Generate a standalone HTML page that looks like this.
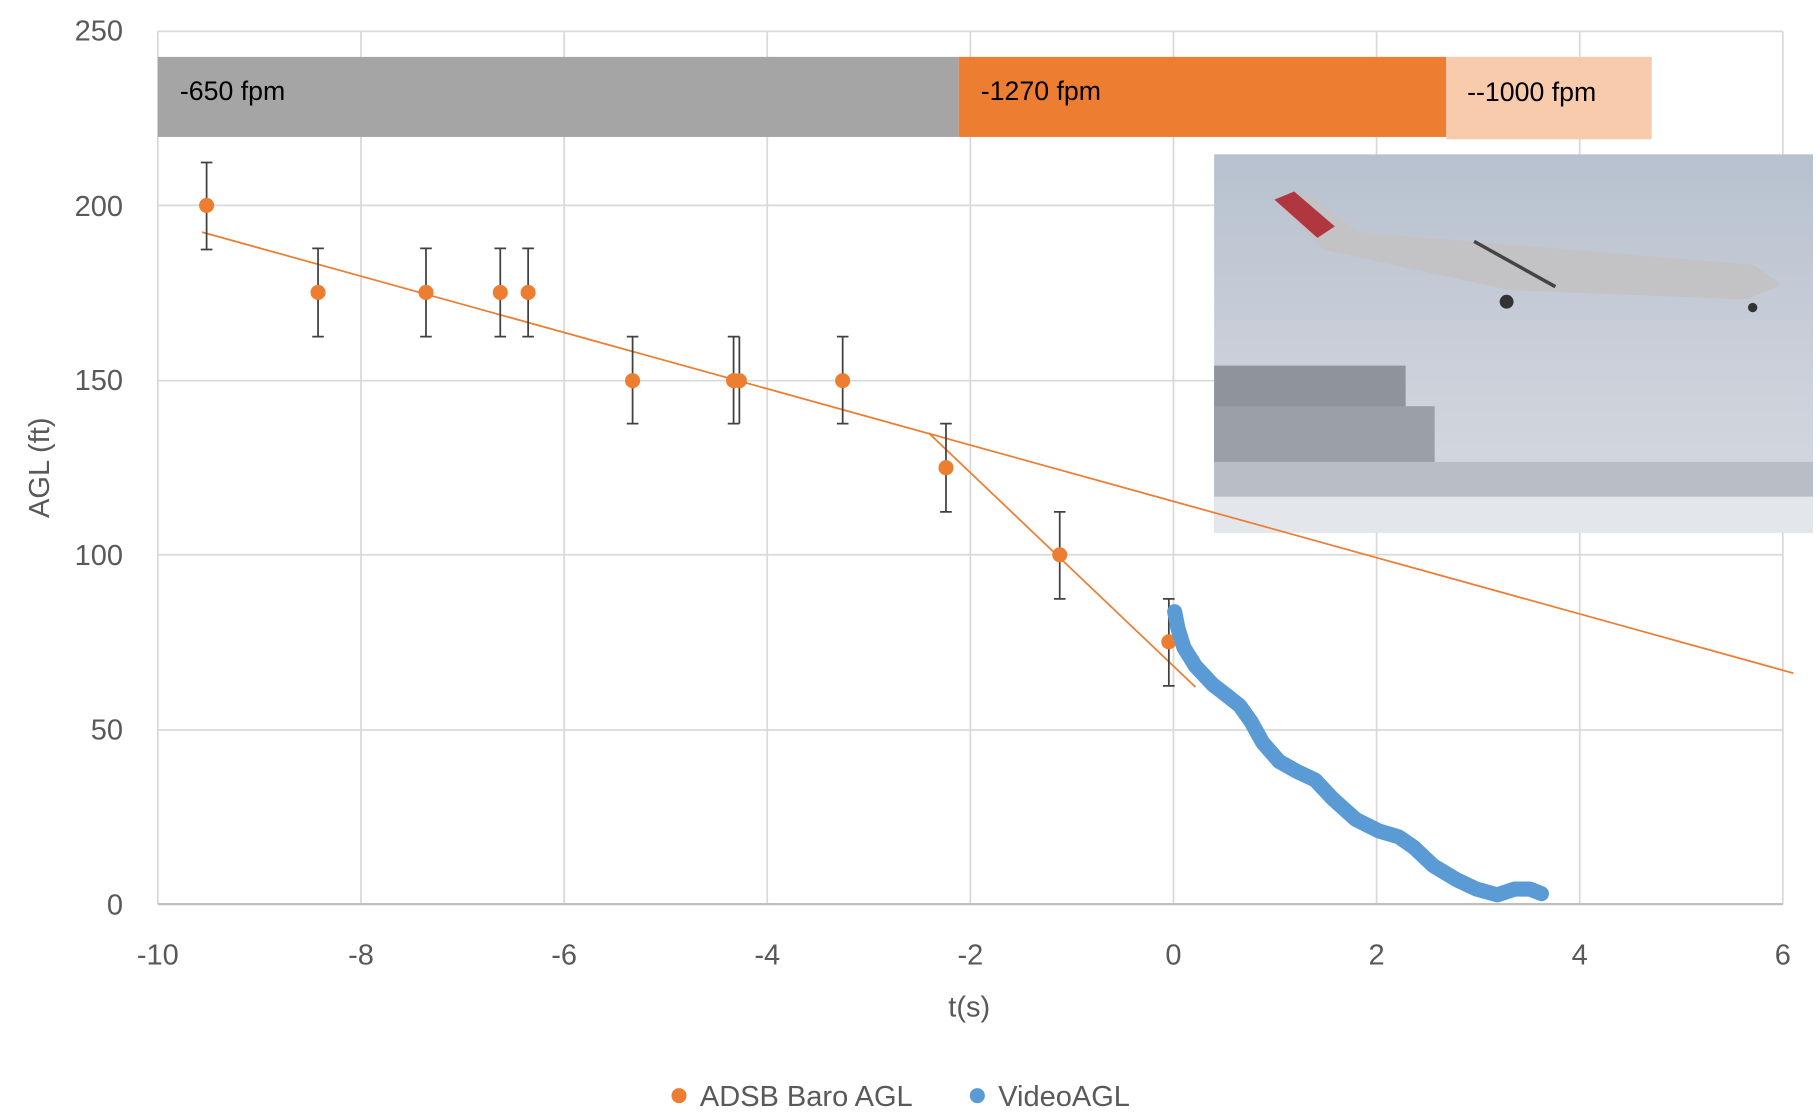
<!DOCTYPE html>
<html><head><meta charset="utf-8"><style>
html,body{margin:0;padding:0;background:#fff;}
svg{display:block;}
text{font-family:"Liberation Sans",sans-serif;}
</style></head><body>
<svg width="1820" height="1120" viewBox="0 0 1568 965" preserveAspectRatio="none" xmlns="http://www.w3.org/2000/svg">
<defs>
<linearGradient id="sky" x1="0" y1="0" x2="0" y2="1">
<stop offset="0" stop-color="#b7c1cf"/><stop offset="0.5" stop-color="#c9ced8"/><stop offset="1" stop-color="#d6dbe2"/>
</linearGradient>
</defs>
<g stroke="#d9d9d9" stroke-width="1.5">
<line x1="136" y1="27" x2="1536" y2="27"/>
<line x1="136" y1="177" x2="1536" y2="177"/>
<line x1="136" y1="328" x2="1536" y2="328"/>
<line x1="136" y1="478" x2="1536" y2="478"/>
<line x1="136" y1="629" x2="1536" y2="629"/>
<line x1="136" y1="27" x2="136" y2="779"/>
<line x1="311" y1="27" x2="311" y2="779"/>
<line x1="486" y1="27" x2="486" y2="779"/>
<line x1="661" y1="27" x2="661" y2="779"/>
<line x1="836" y1="27" x2="836" y2="779"/>
<line x1="1011" y1="27" x2="1011" y2="779"/>
<line x1="1186" y1="27" x2="1186" y2="779"/>
<line x1="1361" y1="27" x2="1361" y2="779"/>
<line x1="1536" y1="27" x2="1536" y2="779"/>
</g>
<line x1="136" y1="779" x2="1536" y2="779" stroke="#bfbfbf" stroke-width="2"/>
<rect x="136" y="49" width="690" height="69" fill="#a5a5a5"/>
<rect x="826" y="49" width="420" height="69" fill="#ed7d31"/>
<rect x="1246" y="49" width="177" height="71" fill="#f8cbad"/>
<g font-size="23" fill="#000">
<text x="155" y="86">-650 fpm</text>
<text x="845" y="86">-1270 fpm</text>
<text x="1264" y="87">--1000 fpm</text>
</g>
<rect x="1046" y="133" width="516" height="326" fill="url(#sky)"/>
<rect x="1046" y="315" width="165" height="85" fill="#8e939c"/>
<rect x="1046" y="350" width="190" height="50" fill="#9a9fa8"/>
<rect x="1046" y="398" width="516" height="30" fill="#b9bec6"/>
<rect x="1046" y="428" width="516" height="31" fill="#e3e6ea"/>
<polygon points="1098,172 1130,168 1170,200 1510,228 1535,245 1505,258 1300,250 1140,215" fill="#c3c3c6"/>
<polygon points="1098,172 1115,165 1150,195 1135,205" fill="#b0363f"/>
<line x1="1270" y1="208" x2="1340" y2="247" stroke="#444" stroke-width="3"/>
<circle cx="1298" cy="260" r="6" fill="#333"/><circle cx="1510" cy="265" r="4" fill="#333"/>
<line x1="174" y1="200" x2="1545" y2="580" stroke="#ed7d31" stroke-width="1.5"/>
<line x1="800" y1="373" x2="1030" y2="592" stroke="#ed7d31" stroke-width="1.5"/>
<g stroke="#404040" stroke-width="1.5">
<path d="M178,140V215M173,140H183M173,215H183"/>
<path d="M274,214V290M269,214H279M269,290H279"/>
<path d="M367,214V290M362,214H372M362,290H372"/>
<path d="M431,214V290M426,214H436M426,290H436"/>
<path d="M455,214V290M450,214H460M450,290H460"/>
<path d="M545,290V365M540,290H550M540,365H550"/>
<path d="M632,290V365M627,290H637M627,365H637"/>
<path d="M637,290V365"/>
<path d="M726,290V365M721,290H731M721,365H731"/>
<path d="M815,365V441M810,365H820M810,441H820"/>
<path d="M913,441V516M908,441H918M908,516H918"/>
<path d="M1007,516V591M1002,516H1012M1002,591H1012"/>
</g>
<g fill="#ed7d31">
<circle cx="178" cy="177" r="6.5"/><circle cx="274" cy="252" r="6.5"/><circle cx="367" cy="252" r="6.5"/>
<circle cx="431" cy="252" r="6.5"/><circle cx="455" cy="252" r="6.5"/><circle cx="545" cy="328" r="6.5"/>
<circle cx="632" cy="328" r="6.5"/><circle cx="637" cy="328" r="6.5"/><circle cx="726" cy="328" r="6.5"/>
<circle cx="815" cy="403" r="6.5"/><circle cx="913" cy="478" r="6.5"/><circle cx="1007" cy="553" r="6.5"/>
</g>
<polyline fill="none" stroke="#5b9bd5" stroke-width="13" stroke-linecap="round" stroke-linejoin="round"
points="1012,527 1015,542 1020,558 1030,574 1045,590 1058,600 1068,608 1078,622 1088,640 1102,656 1118,665 1133,672 1148,688 1168,706 1188,716 1205,721 1218,730 1235,746 1255,758 1272,766 1290,771 1305,766 1318,766 1328,770"/>
<g font-size="25" fill="#595959" text-anchor="end">
<text x="106" y="35">250</text><text x="106" y="186">200</text><text x="106" y="336">150</text>
<text x="106" y="487">100</text><text x="106" y="637">50</text><text x="106" y="788">0</text>
</g>
<g font-size="25" fill="#595959" text-anchor="middle">
<text x="136" y="831">-10</text><text x="311" y="831">-8</text><text x="486" y="831">-6</text>
<text x="661" y="831">-4</text><text x="836" y="831">-2</text><text x="1011" y="831">0</text>
<text x="1186" y="831">2</text><text x="1361" y="831">4</text><text x="1536" y="831">6</text>
<text x="835" y="876">t(s)</text>
<text transform="translate(42,403) rotate(-90)">AGL (ft)</text>
</g>
<circle cx="585" cy="944" r="6.5" fill="#ed7d31"/>
<text x="603" y="953" font-size="25" fill="#595959">ADSB Baro AGL</text>
<circle cx="842" cy="944" r="6.5" fill="#5b9bd5"/>
<text x="860" y="953" font-size="25" fill="#595959">VideoAGL</text>
</svg>
</body></html>
